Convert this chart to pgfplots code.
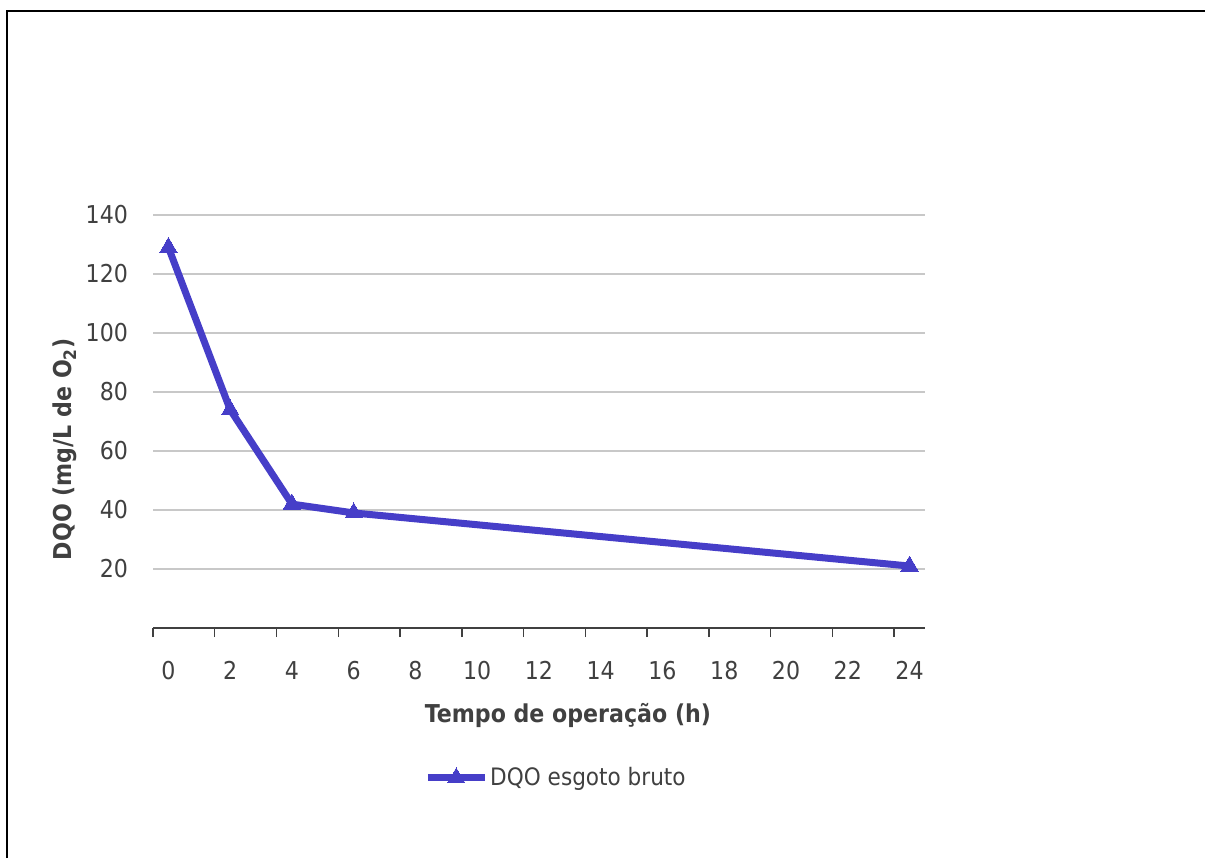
\documentclass[border=0pt]{standalone}
\usepackage{pgfplots}
\pgfplotsset{compat=1.18}
\usepackage{fontspec}
\setmainfont{DejaVu Sans Condensed}
\definecolor{serie}{RGB}{70,62,200}
\definecolor{txt}{RGB}{64,64,64}
\definecolor{gridc}{RGB}{200,200,200}
\begin{document}
\begin{tikzpicture}[x=0.5pt,y=0.5pt]
\useasboundingbox (0,0) rectangle (1205,858);
\draw[line width=1.4pt] (7,0) -- (7,847) -- (1205,847);
\begin{axis}[
  at={(76.5pt,115pt)}, anchor=south west,
  width=386pt, height=206.5pt, scale only axis,
  xmin=-0.5, xmax=24.5, ymin=0, ymax=140,
  xtick={-0.5,1.5,...,23.5},
  xticklabels={0,2,4,6,8,10,12,14,16,18,20,22,24},
  ytick={20,40,...,140},
  tick align=outside,
  major x tick style={draw=txt, line width=0.7pt},
  major tick length=4.5pt,
  ytick style={draw=none},
  axis x line*=bottom, axis y line*=left,
  y axis line style={draw=none},
  x axis line style={draw=txt, line width=0.8pt},
  ymajorgrids, grid style={gridc, line width=0.6pt},
  /pgf/number format/assume math mode=true,
  ticklabel style={font=\fontsize{12.3}{14}\selectfont, text=txt},
  xticklabel style={xshift=7.71pt, yshift=-8.5pt},
  yticklabel style={xshift=-4.5pt},
  xlabel={Tempo de operação (h)},
  ylabel={DQO (mg/L de O\textsubscript{2})},
  label style={font=\bfseries\fontsize{12.3}{14}\selectfont, text=txt},
  xlabel style={at={(axis description cs:0.5376,-0.2107)}, anchor=center},
  ylabel style={at={(axis description cs:-0.114,0.433)}, anchor=center},
  legend style={at={(axis description cs:0.522,-0.363)}, anchor=center, draw=none, fill=none, font=\fontsize{12}{14}\selectfont, text=txt, inner sep=0pt, nodes={inner xsep=1pt}},
  legend cell align=left,
  legend image code/.code={\draw[mark repeat=2,mark phase=2] plot coordinates {(0cm,0cm)(0.5cm,0cm)(1cm,0cm)};},
  clip=false,
]
\addplot[serie, line width=3.5pt, mark=triangle*, mark size=5pt, mark options={solid, line width=0pt}] coordinates {
(0,129) (2,74) (4,42) (6,39) (24,21)
};
\addlegendentry{DQO esgoto bruto}
\end{axis}
\end{tikzpicture}
\end{document}
